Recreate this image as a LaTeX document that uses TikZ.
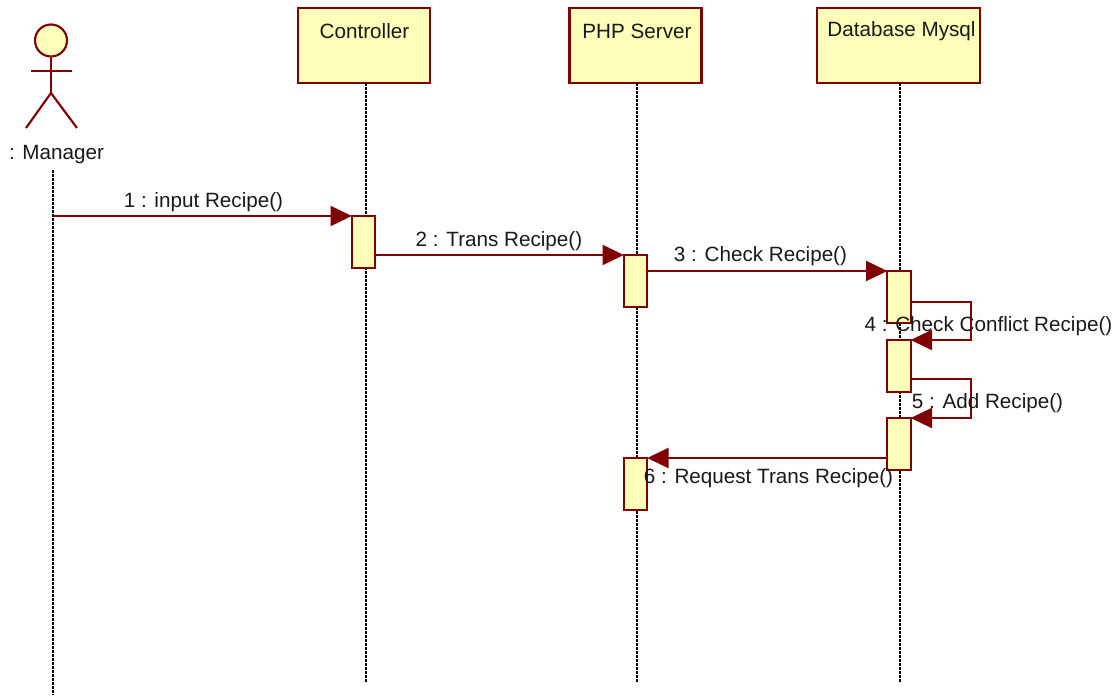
\documentclass[tikz,border=0pt]{standalone}
\usepackage{fontspec}
\setmainfont{Liberation Sans}
\usetikzlibrary{arrows.meta}
\definecolor{umlred}{HTML}{800000}
\definecolor{umlfill}{HTML}{FFFFB9}

\begin{document}
\begin{tikzpicture}[x=0.75pt,y=-0.75pt,line width=1.6pt,
                       box node/.style={rectangle,fill=umlfill,draw=umlred,outer sep=0pt,
                                        inner sep=0pt},
                       act node/.style={box node,minimum width=17.5pt,minimum height=39pt},
                       head node/.style={circle,fill=umlfill,draw=umlred,outer sep=0pt,
                                         inner sep=0pt,minimum size=24pt},
                       text node/.style={inner sep=0pt,font=\fontsize{15.5}{18}\selectfont,text=black!90},
                       msg/.style={draw=umlred,-{Triangle[length=16pt,width=15pt]}},
                       life/.style={draw=black,line width=1.5pt,dash pattern=on 2.2pt off 0.8pt},
                       limb/.style={draw=umlred}
                           ]
   \useasboundingbox (0,0) rectangle (1119,695);
   % objects
   \node[box node,minimum width=99pt,minimum height=56.25pt] (controller) at (364,45.5) {};
   \node[box node,minimum width=99pt,minimum height=56.25pt] (php) at (635.5,45.5) {};
   \node[box node,minimum width=122pt,minimum height=56.25pt] (db) at (898.5,45.5) {};
   % lifelines
   \coordinate (managertop) at (53,170);
   \coordinate (managerend) at (53,695);
   \coordinate (controllerend) at (366,682);
   \coordinate (phpend) at (637,682);
   \coordinate (dbend) at (900,682);
   \draw[life] (managertop) -- (managerend);
   \draw[life] (controller.south -| controllerend) -- (controllerend);
   \draw[life] (php.south -| phpend) -- (phpend);
   \draw[life] (db.south -| dbend) -- (dbend);
   % activations
   \node[act node] (acta) at (363.5,242) {};
   \node[act node] (actb) at (635.5,281) {};
   \node[act node] (actc) at (899,297) {};
   \node[act node] (actd) at (899,366) {};
   \node[act node] (acte) at (899,444) {};
   \node[act node] (actf) at (635.5,484) {};
   % actor
   \node[head node] (head) at (51,40.5) {};
   \coordinate (neck) at (51,93);
   \coordinate (armleft) at (31,71);
   \coordinate (armright) at (72,71);
   \coordinate (footleft) at (26,128);
   \coordinate (footright) at (77,128);
   \draw[limb] (head.south) -- (neck);
   \draw[limb] (armleft) -- (armright);
   \draw[limb] (footleft) -- (neck) -- (footright);
   % messages
   \coordinate (starta) at (53,216);
   \coordinate (startb) at (acta.east |- actb.north);
   \coordinate (startc) at (actb.east |- actc.north);
   \coordinate (startd) at (actc.east |- 0,302);
   \coordinate (cornerd) at (971,302);
   \coordinate (starte) at (actd.east |- 0,379);
   \coordinate (cornere) at (971,379);
   \coordinate (startf) at (acte.west |- actf.north);
   \draw[msg] (starta) -- (acta.north west);
   \draw[msg] (startb) -- (actb.north west);
   \draw[msg] (startc) -- (actc.north west);
   \draw[msg] (startd) -- (cornerd) -- (cornerd |- actd.north) -- (actd.north east);
   \draw[msg] (starte) -- (cornere) -- (cornere |- acte.north) -- (acte.north east);
   \draw[msg] (startf) -- (actf.north east);
   % labels
   \node[text node] (controllername) at (364.5,31) {Controller};
   \node[text node] (phpname) at (637,31) {PHP Server};
   \node[text node] (dbname) at (901.5,31) {Database Mysql};
   \node[text node] (managername) at (56.5,154.5) {: Manager};
   \node[text node] (labela) at (203.5,202.5) {1 : input Recipe()};
   \node[text node] (labelb) at (499,241.5) {2 : Trans Recipe()};
   \node[text node] (labelc) at (760.5,256.5) {3 : Check Recipe()};
   \node[text node] (labeld) at (988.5,326.5) {4 : Check Conflict Recipe()};
   \node[text node] (labele) at (987.5,403.5) {5 : Add Recipe()};
   \node[text node] (labelf) at (768.5,478.5) {6 : Request Trans Recipe()};
\end{tikzpicture}
\end{document}
